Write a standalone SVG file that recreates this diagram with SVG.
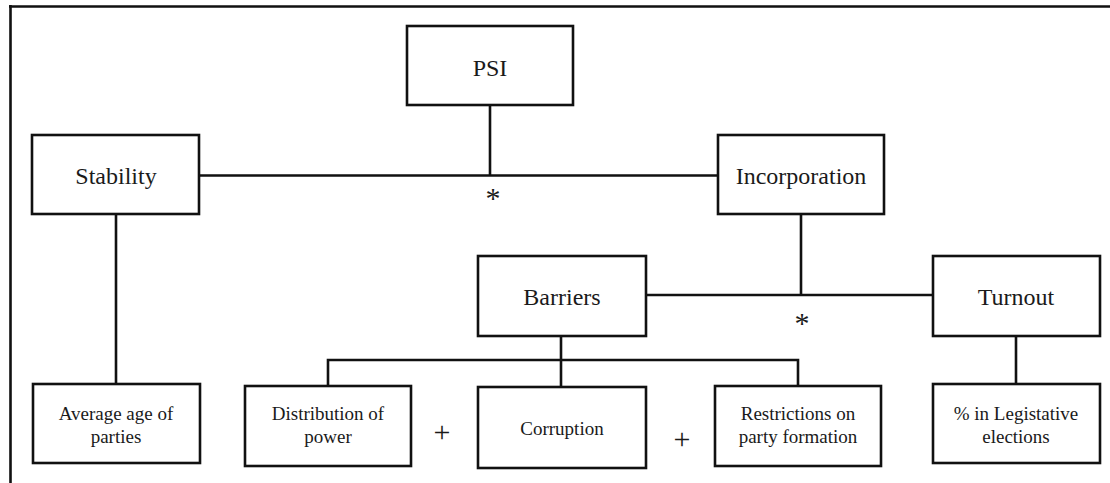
<svg xmlns="http://www.w3.org/2000/svg" width="1110" height="483" viewBox="0 0 1110 483">
<style>
.box{fill:#fff;stroke:#111;stroke-width:2.6}
.ln{fill:none;stroke:#111;stroke-width:2.6}
.t{font-family:"Liberation Serif","Times New Roman",serif;fill:#1a1a1a;text-anchor:middle}
.big{font-size:24px}
.sm{font-size:19px}
.sym{font-family:"Liberation Serif","Times New Roman",serif;fill:#1a1a1a;text-anchor:middle}
</style>
<rect width="1110" height="483" fill="#fff"/>
<g id="frame">
<path class="ln" d="M9,6.5 H1110 M10.5,5 V483" stroke-width="3.2"/>
</g>
<g id="connectors">
<path class="ln" d="M490,105 V175.5 M199,175.5 H718"/>
<path class="ln" d="M801,214 V295 M646,295 H933"/>
<path class="ln" d="M116,214 V384"/>
<path class="ln" d="M1016,336 V384"/>
<path class="ln" d="M561,336 V387 M328,386 V360 H798 V386"/>
<text class="sym" x="493" y="208" font-size="30">*</text>
<text class="sym" x="802" y="333" font-size="30">*</text>
<text class="sym" x="442" y="442" font-size="30">+</text>
<text class="sym" x="682" y="449" font-size="30">+</text>
</g>
<g id="psi">
<rect class="box" x="407" y="26" width="166" height="79"/>
<text class="t big" x="490" y="76">PSI</text>
</g>
<g id="stability">
<rect class="box" x="32" y="135" width="167" height="79"/>
<text class="t big" x="116" y="184">Stability</text>
</g>
<g id="incorporation">
<rect class="box" x="718" y="135" width="166" height="79"/>
<text class="t big" x="801" y="184">Incorporation</text>
</g>
<g id="barriers">
<rect class="box" x="478" y="256" width="168" height="80"/>
<text class="t big" x="562" y="305">Barriers</text>
</g>
<g id="turnout">
<rect class="box" x="933" y="256" width="167" height="80"/>
<text class="t big" x="1016" y="305">Turnout</text>
</g>
<g id="average">
<rect class="box" x="33" y="384" width="167" height="79"/>
<text class="t sm" x="116" y="420">Average age of</text>
<text class="t sm" x="116" y="443">parties</text>
</g>
<g id="distribution">
<rect class="box" x="245" y="386" width="166" height="80"/>
<text class="t sm" x="328" y="420">Distribution of</text>
<text class="t sm" x="328" y="443">power</text>
</g>
<g id="corruption">
<rect class="box" x="478" y="387" width="168" height="81"/>
<text class="t sm" x="562" y="435">Corruption</text>
</g>
<g id="restrictions">
<rect class="box" x="715" y="386" width="166" height="80"/>
<text class="t sm" x="798" y="420">Restrictions on</text>
<text class="t sm" x="798" y="443">party formation</text>
</g>
<g id="legislative">
<rect class="box" x="933" y="384" width="167" height="79"/>
<text class="t sm" x="1016" y="420">% in Legistative</text>
<text class="t sm" x="1016" y="443">elections</text>
</g>
</svg>
